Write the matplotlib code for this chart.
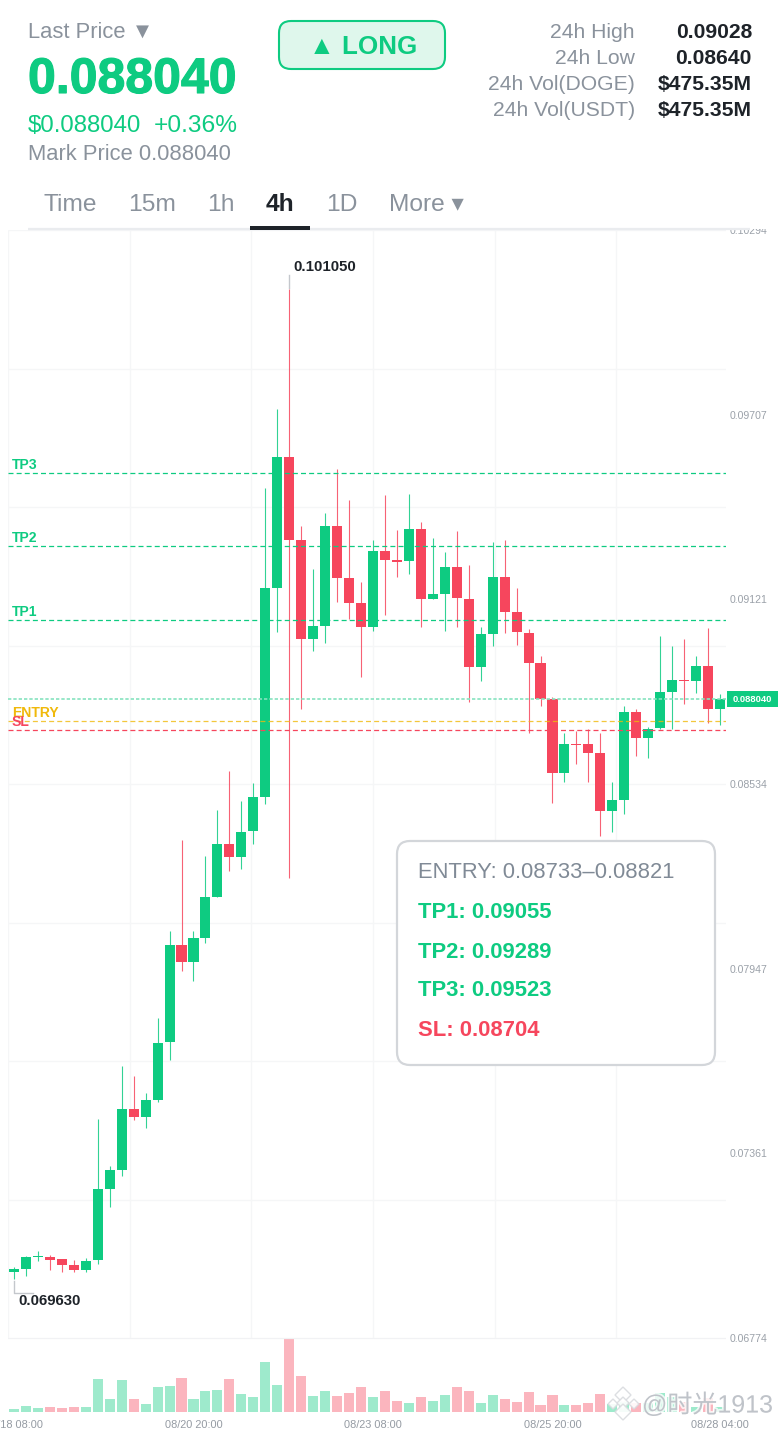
import matplotlib
matplotlib.use('Agg')
import matplotlib.pyplot as plt
import matplotlib.patheffects as pe
from matplotlib.patches import FancyBboxPatch, Rectangle, Polygon
from matplotlib.transforms import Bbox, TransformedBbox

plt.rcParams['font.family'] = ['Liberation Sans', 'Noto Sans CJK SC', 'DejaVu Sans']

# 4h candles
opens = [0.06983, 0.06994, 0.07031, 0.07032, 0.07024, 0.07006, 0.06990, 0.07021, 0.07248, 0.07309,
         0.07502, 0.07477, 0.07530, 0.07714, 0.08022, 0.07969, 0.08046, 0.08176, 0.08344, 0.08302,
         0.08384, 0.08494, 0.09157, 0.09573, 0.09309, 0.08996, 0.09035, 0.09353, 0.09188, 0.09109,
         0.09034, 0.09273, 0.09246, 0.09241, 0.09343, 0.09121, 0.09138, 0.09223, 0.09123, 0.08907,
         0.09011, 0.09192, 0.09079, 0.09014, 0.08917, 0.08804, 0.08569, 0.08662, 0.08660, 0.08631,
         0.08448, 0.08482, 0.08764, 0.08680, 0.08711, 0.08826, 0.08863, 0.08862, 0.08909, 0.08773]
highs = [0.06999, 0.07035, 0.07050, 0.07039, 0.07026, 0.07021, 0.07027, 0.07470, 0.07321, 0.07638,
         0.07606, 0.07552, 0.07791, 0.08066, 0.08355, 0.08066, 0.08304, 0.08451, 0.08574, 0.08479,
         0.08536, 0.09475, 0.09725, 0.10105, 0.09353, 0.09217, 0.09395, 0.09534, 0.09436, 0.09175,
         0.09309, 0.09452, 0.09341, 0.09454, 0.09365, 0.09315, 0.09272, 0.09338, 0.09230, 0.09032,
         0.09303, 0.09309, 0.09156, 0.09027, 0.08941, 0.08811, 0.08695, 0.08703, 0.08708, 0.08695,
         0.08540, 0.08781, 0.08772, 0.08715, 0.09003, 0.08972, 0.08995, 0.08941, 0.09029, 0.08820]
lows = [0.06963, 0.06971, 0.07019, 0.06991, 0.06984, 0.06985, 0.06985, 0.07008, 0.07189, 0.07289,
        0.07468, 0.07440, 0.07524, 0.07657, 0.07940, 0.07908, 0.08029, 0.08176, 0.08257, 0.08265,
        0.08342, 0.08471, 0.09017, 0.08236, 0.08773, 0.08956, 0.08983, 0.09113, 0.09057, 0.08875,
        0.09020, 0.09072, 0.09191, 0.09202, 0.09034, 0.09121, 0.09021, 0.09032, 0.08794, 0.08862,
        0.08972, 0.09013, 0.08976, 0.08697, 0.08783, 0.08474, 0.08541, 0.08597, 0.08541, 0.08370,
        0.08382, 0.08438, 0.08623, 0.08617, 0.08709, 0.08709, 0.08789, 0.08822, 0.08727, 0.08721]
closes = [0.06993, 0.07030, 0.07035, 0.07023, 0.07007, 0.06990, 0.07020, 0.07247, 0.07307, 0.07502,
          0.07477, 0.07530, 0.07711, 0.08022, 0.07969, 0.08044, 0.08175, 0.08344, 0.08302, 0.08382,
          0.08493, 0.09157, 0.09573, 0.09309, 0.08996, 0.09035, 0.09353, 0.09189, 0.09110, 0.09034,
          0.09273, 0.09246, 0.09240, 0.09343, 0.09122, 0.09138, 0.09223, 0.09124, 0.08907, 0.09011,
          0.09192, 0.09079, 0.09016, 0.08917, 0.08805, 0.08569, 0.08662, 0.08659, 0.08632, 0.08448,
          0.08482, 0.08764, 0.08680, 0.08710, 0.08826, 0.08864, 0.08861, 0.08910, 0.08773, 0.08804]
volumes = [3.3, 6, 4.3, 4.7, 4, 5, 5, 33, 13.3, 31.7,
           13.3, 8.3, 24.7, 26.3, 34, 13.3, 21.3, 22, 33, 18.3,
           14.7, 50, 27, 74, 35.7, 16, 20.7, 16.3, 19, 24.7,
           15, 20.7, 10.7, 9, 15.3, 10.7, 17.3, 25.3, 20.7, 9.3,
           16.7, 12.7, 10, 20, 7.3, 16.7, 6.7, 6.7, 8.7, 18,
           8, 10, 8.7, 9, 19.5, 15, 10, 5.3, 14, 4.7]

level_names = ['TP3', 'TP2', 'TP1', 'ENTRY', 'SL']
level_prices = [0.09523, 0.09289, 0.09055, 0.08733, 0.08704]
last_price = 0.08804
price_ticks = [0.10294, 0.09707, 0.09121, 0.08534, 0.07947, 0.07361, 0.06774]
price_grid = [0.10294, 0.09854, 0.09414, 0.08974, 0.08534, 0.08094, 0.07654, 0.07214, 0.06774]
time_ticks = [0, 15, 30, 45, 59]
time_labels = ['08/18 08:00', '08/20 20:00', '08/23 08:00', '08/25 20:00', '08/28 04:00']
time_grid = [-0.5, 9.67, 19.83, 30, 40.17, 50.33]
stat_names = ['24h High', '24h Low', '24h Vol(DOGE)', '24h Vol(USDT)']
stat_values = ['0.09028', '0.08640', '$475.35M', '$475.35M']
tabs = ['Time', '15m', '1h', '4h', '1D', 'More ▾']

GREEN = '#0ecb81'
RED = '#f6465d'
AMBER = '#f0b90b'
GRAY = '#8a929c'
DARK = '#1e2329'
GRID = '#f5f6f7'
W, H = 780, 1430


def px(size):
    return size * 0.72  # font size from pixels, dpi 100


def box(left, top, right, bottom):
    return [left / W, 1 - bottom / H, (right - left) / W, (bottom - top) / H]


fig = plt.figure(figsize=(7.8, 14.3), dpi=100)
ax = fig.add_axes(box(8, 230, 726, 1338))
vol = fig.add_axes(box(8, 1338, 726, 1412), sharex=ax)
page = fig.add_axes([0, 0, 1, 1], zorder=5)
page.set_xlim(0, W)
page.set_ylim(H, 0)
page.axis('off')
page.patch.set_alpha(0)

# Price panel
xs = list(range(len(opens)))
colors = [GREEN if c >= o else RED for o, c in zip(opens, closes)]
ax.set_xlim(-0.5, 59.5)
ax.set_ylim(0.06774, 0.10294)
ax.vlines(time_grid, 0.06774, 0.10294, color=GRID, lw=1, zorder=0)
ax.hlines(price_grid, -0.5, 59.5, color=GRID, lw=1, zorder=0)
ax.vlines(xs, lows, highs, color=colors, lw=0.8, alpha=0.85, zorder=2)
ax.bar(xs, [abs(c - o) for o, c in zip(opens, closes)], bottom=[min(o, c) for o, c in zip(opens, closes)],
       width=0.84, color=colors, zorder=3)
for s in ax.spines.values():
    s.set_visible(False)
ax.tick_params(left=False, bottom=False, labelleft=False, labelbottom=False)

# Trade levels
for name, price in zip(level_names, level_prices):
    col = AMBER if name == 'ENTRY' else RED if name == 'SL' else GREEN
    ax.hlines(price, -0.5, 59.5, color=col, lw=0.9, linestyles=(0, (4, 2.5)), alpha=0.8 if name == 'ENTRY' else 1, zorder=4)
ax.hlines(last_price, -0.5, 59.5, color='#86e3bf', lw=1.2, linestyles=(0, (2, 1.2)), zorder=4)

for name, ypos in zip(level_names, [465, 538, 612, 713, 722]):
    col = AMBER if name == 'ENTRY' else RED if name == 'SL' else GREEN
    page.text(12, ypos, name, color=col, fontsize=px(14), fontweight='bold', va='center', ha='left')

# Right price labels, the top one is cut by the tab bar
for p in price_ticks:
    t = ax.annotate('%.5f' % p, (1.0, p), xycoords=ax.get_yaxis_transform(), xytext=(4, -1),
                    textcoords='offset pixels', color='#9ba1a9', fontsize=px(10.5), va='center', ha='left',
                    annotation_clip=False)
    t.set_clip_on(True)
    t.set_clip_box(TransformedBbox(Bbox([[0, 0], [1, 1 - 229 / H]]), fig.transFigure))

# Volume panel
vol.set_ylim(0, 74)
vol.bar(xs, volumes, width=0.84, color=colors, alpha=0.4)
vol.axhline(74, color='#f1f2f4', lw=1.6)
vol.axis('off')

for tick, label in zip(time_ticks, time_labels):
    vol.annotate(label, (tick, 0), xytext=(0, -13), textcoords='offset pixels', ha='center', va='center',
                 color='#959ba3', fontsize=px(11), annotation_clip=False)

# Extreme markers
page.plot([289, 289], [275, 288], color='#c4c7cc', lw=1)
page.plot([14, 14, 33], [1281, 1293, 1293], color='#c4c7cc', lw=1)
page.text(293, 267, '0.101050', color=DARK, fontsize=px(15), fontweight='bold', va='center')
page.text(18, 1301, '0.069630', color=DARK, fontsize=px(15), fontweight='bold', va='center')

# Last price tag
page.add_patch(Rectangle((727, 691), 51, 16, color=GREEN, lw=0))
page.text(752.5, 700, '0.088040', color='white', fontsize=px(9.5), fontweight='bold', ha='center', va='center')

# Header
page.text(28, 32, 'Last Price ▼', color=GRAY, fontsize=px(22), va='center')
page.text(28, 80, '0.088040', color=GREEN, fontsize=px(50), fontweight='bold', va='center',
          path_effects=[pe.withStroke(linewidth=0.8, foreground=GREEN)])
page.text(28, 126, '$0.088040', color=GREEN, fontsize=px(24), va='center')
page.text(154, 126, '+0.36%', color=GREEN, fontsize=px(24.5), va='center')
page.text(28, 155, 'Mark Price 0.088040', color=GRAY, fontsize=px(22), va='center')

page.add_patch(FancyBboxPatch((279, 21), 166, 48, boxstyle='round,pad=0,rounding_size=12',
                              fc='#dff7ec', ec=GREEN, lw=1.5))
page.text(363, 47, '▲ LONG', color=GREEN, fontsize=px(26), fontweight='bold', ha='center', va='center')

for i, (name, value) in enumerate(zip(stat_names, stat_values)):
    ypos = 33 + i * 26
    page.text(635, ypos, name, color=GRAY, fontsize=px(21.2), ha='right', va='center')
    page.text(752, ypos, value, color=DARK, fontsize=px(21.2), fontweight='bold', ha='right', va='center')

# Tabs
for label, left in zip(tabs, [44, 128, 207, 266, 326, 389]):
    active = label == '4h'
    page.text(left, 211, label, color=DARK if active else GRAY, fontsize=px(24.5),
              fontweight='bold' if active else 'normal', va='baseline')
page.plot([28, 750], [228.5, 228.5], color='#eaecef', lw=1.6, solid_capstyle='butt', zorder=1)
page.add_patch(Rectangle((250, 226), 60, 4, color=DARK, lw=0, zorder=2))

# Plan card
page.add_patch(FancyBboxPatch((397, 841), 318, 224, boxstyle='round,pad=0,rounding_size=13',
                              fc='white', ec='#d3d6da', lw=1.6))
page.text(418, 872, 'ENTRY: 0.08733–0.08821', color='#808a96', fontsize=px(22), va='center')
for label, ypos, col in [('TP1: 0.09055', 912, GREEN), ('TP2: 0.09289', 952, GREEN),
                         ('TP3: 0.09523', 990, GREEN), ('SL: 0.08704', 1030, RED)]:
    page.text(418, ypos, label, color=col, fontsize=px(22), fontweight='bold', va='center')

# Watermark
halo = [pe.withStroke(linewidth=2.5, foreground='white', alpha=0.8)]
page.text(642, 1405, '@时光1913', color='#bfc3c9', fontsize=px(25), va='center', ha='left', path_effects=halo)
for cx, cy, r in [(623, 1395, 8), (613, 1404, 5), (634, 1404, 5), (623, 1403, 6), (623, 1412, 8)]:
    page.add_patch(Polygon([(cx, cy - r), (cx + r, cy), (cx, cy + r), (cx - r, cy)], closed=True,
                           fc='white', ec='#d9dbdf', lw=1, alpha=0.9))

fig.savefig('out.png', dpi=100)
